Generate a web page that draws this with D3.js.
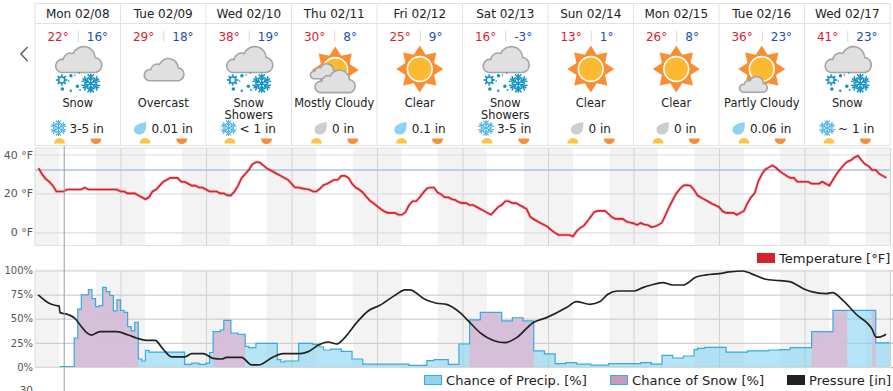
<!DOCTYPE html>
<html>
<head>
<meta charset="utf-8">
<script src="https://cdn.jsdelivr.net/npm/d3@7"></script>
<style>
html, body { margin: 0; padding: 0; background: #fff; overflow: hidden; }
text { font-family: "DejaVu Sans", sans-serif; }
</style>
</head>
<body>
<div id="chart"></div>
<script>
const dayLabels = ["Mon 02/08", "Tue 02/09", "Wed 02/10", "Thu 02/11", "Fri 02/12", "Sat 02/13", "Sun 02/14", "Mon 02/15", "Tue 02/16", "Wed 02/17"];
const hiTemps = [22, 29, 38, 30, 25, 16, 13, 26, 36, 41];
const loTemps = [16, 18, 19, 8, 9, -3, 1, 8, 23, 23];
const conditions = [["Snow"], ["Overcast"], ["Snow", "Showers"], ["Mostly Cloudy"], ["Clear"], ["Snow", "Showers"], ["Clear"], ["Clear"], ["Partly Cloudy"], ["Snow"]];
const icons = ["snow", "overcast", "snow", "mostly", "clear", "snow", "clear", "clear", "partly", "snow"];
const precipText = ["3-5 in", "0.01 in", "< 1 in", "0 in", "0.1 in", "3-5 in", "0 in", "0 in", "0.06 in", "~ 1 in"];
const precipKinds = ["flake", "drop", "flake", "none", "drop", "flake", "none", "none", "drop", "flake"];

// hours after midnight of the first day
const sunrise = [6.9, 30.9, 54.7, 79, 102.9, 126.9, 151, 174.9, 199, 222.9];
const sunset = [17.1, 41.2, 65, 89.2, 113, 137.2, 161.2, 185.1, 209.2, 233.1];

// temperature, one value per hour from hour 1 to hour 239
const tempValues = [
    33, 29.8, 27.5, 26, 24, 21, 21, 21, 22, 22, 22, 22, 22, 23, 22, 22, 22, 22, 22, 22, 22, 22, 22, 21,
    21, 20, 20, 20, 19, 18, 17, 18, 21, 22, 24, 26, 27, 28, 28, 28, 26, 26, 25, 24, 24, 23, 23, 22,
    21, 21, 21, 20, 20, 19, 19, 21, 24, 28, 30, 32, 35, 36, 36, 34.6, 33, 32, 31, 30, 29, 28, 27, 25,
    23, 23, 22.6, 22.3, 22, 21, 21, 22.5, 24.3, 25, 26, 27, 27, 29, 29, 28, 25, 23, 22, 20.5, 18.3, 16.3, 15, 13.5,
    12, 10.8, 10, 10, 10, 9, 9, 10.3, 14, 16, 16, 18, 20.4, 22.5, 23, 23, 20.5, 19.5, 18, 18, 17, 16.6, 15.4, 15,
    15, 14, 14, 13, 12, 11, 10, 9, 11, 13, 14, 16, 16, 15, 15, 14, 13, 12, 8, 6.7, 5.7, 4.6, 3.8, 2.7,
    1, -0.3, -1.4, -1.4, -1.4, -1.4, -2.2, 0.5, 2.2, 3.3, 5.5, 8, 10.5, 11, 11, 11, 9.4, 7.7, 6.9, 6.9, 6.9, 5.5, 5, 4.6,
    3.8, 4.8, 4, 3.8, 2.7, 3, 3.8, 5, 9, 13, 16.6, 20, 22.3, 24, 24.3, 24, 21.8, 18.9, 17.8, 16.8, 15.8, 14.7, 13.9, 13,
    10.8, 10, 10, 10, 9, 10, 11, 15, 18, 20, 26, 29.8, 32.4, 33.4, 34.4, 33.2, 31.5, 30.2, 29, 28, 28, 26, 26, 26,
    26, 25, 25, 25, 26, 25, 24, 27, 30, 32.4, 34.6, 36.3, 37, 38.5, 39.4, 37, 35, 34, 32, 32, 30, 29, 28
];
const tempHours = tempValues.map((d, i) => i + 1);

// pressure, read as height on the lower panel's axis
const pressureHours = [0.9, 3.7, 5.6, 6.8, 7, 9, 11.2, 13.1, 14.5, 15.9, 18.2, 22.9, 26.2, 28.5, 31.3, 33.7, 36, 38.4, 42.1, 44, 47.2, 50, 52.4, 53.8, 58, 60.8, 62.7, 66.9, 69.7, 74.4, 76.7, 80, 82.3, 84.7, 86.5, 90.7, 93.5, 96.8, 101.5, 103.8, 105.2, 109.4, 112.7, 115.5, 119.3, 122.1, 124.9, 129.1, 131.9, 135.2, 139.8, 143.6, 149.2, 152, 155.8, 158.6, 160.8, 163.6, 168.3, 170.6, 173, 176.2, 179, 181.9, 185.6, 188.4, 192.1, 194.9, 198.7, 201, 205.2, 207.6, 211.8, 216, 217.9, 222.1, 223.8, 226.8, 230.5, 235, 236.1, 237, 238.9];
const pressureValues = [74.6, 66.6, 63.9, 63.2, 56.3, 54.6, 50.4, 41.4, 35.6, 33.1, 36.6, 36.6, 33.1, 30, 27.6, 27.6, 18.3, 10.4, 10.4, 13.8, 13.8, 9, 8.3, 10, 10, 2.1, 2.1, 10.4, 13.8, 13.8, 15.9, 23.5, 25.9, 23.8, 28.7, 47.7, 58, 63.9, 75.3, 79.8, 79.8, 70.1, 66, 64.9, 56.3, 45.9, 35.6, 26.9, 25.2, 30.4, 45.9, 51.1, 61.5, 67.7, 64.9, 67.7, 75.3, 78.7, 78.7, 82.2, 84.9, 87.4, 84.9, 84.9, 93.2, 95.3, 96.7, 98.4, 99.4, 96.7, 90.8, 89.8, 88.4, 80.5, 78, 76, 77, 69, 54.6, 39, 31, 31, 33.8];

const precipHours = [7, 11, 12, 13, 15, 16, 17, 18, 19, 20, 21, 22, 23, 24, 25, 26, 27, 28, 29, 30, 31, 32, 42, 44, 46, 48, 49, 50, 52, 53, 55, 57, 59, 60, 62, 68, 69, 70, 74, 78, 80, 81, 83, 86, 89, 92, 105, 110, 112, 116, 119, 122, 125, 131, 134, 137, 140, 143, 146, 149, 152, 156, 161, 170, 173, 176, 179, 182, 185, 186, 188, 194, 200, 206, 209, 212, 218, 224, 236, 240];
const precipValues = [0.5, 30, 60, 74.6, 80, 70.8, 62.5, 63.5, 82.5, 78, 74, 58, 69.4, 58.7, 56.6, 41.8, 37.3, 46.3, 8.3, 6.2, 17.3, 15.5, 2.8, 4, 2.8, 4, 15, 36.6, 38.3, 48.3, 35.2, 33.8, 21.4, 20, 24.5, 7.6, 5.2, 6.2, 24.5, 23.5, 20.7, 17.6, 18.6, 16.2, 8.3, 3, 1.7, 6.6, 7.6, 2.8, 23.8, 48.7, 56.6, 47.7, 51, 47.7, 16.6, 13.5, 3.5, 4.5, 3, 2, 3.5, 4.5, 3, 12, 9.3, 11.4, 18, 19.3, 20.4, 15.5, 16.6, 17.6, 18, 20, 36.6, 58.7, 24.9, 24.9];

const snowHours = [11, 12, 13, 15, 16, 17, 18, 19, 20, 21, 22, 23, 24, 25, 26, 27, 28, 29, 50, 52, 53, 55, 57, 59, 122, 125, 131, 134, 137, 140, 218, 224, 228, 235, 236];
const snowValues = [30, 60, 74.6, 80, 70.8, 62.5, 63.5, 82.5, 78, 74, 58, 69.4, 58.7, 56.6, 41.8, 37.3, 46.3, 0, 36.6, 38.3, 48.3, 35.2, 33.8, 0, 48.7, 56.6, 47.7, 51, 47.7, 0, 36.6, 58.7, 0, 58.7, 0];

const dayTicks = [24, 48, 72, 96, 120, 144, 168, 192, 216, 240];
const cursorHour = 8.2;
const freezing = 32;

const width = 893;
const height = 391;
const red = "#d7202e";
const blueLine = "#36abdc";

const x = d3.scaleLinear().domain([0, 240]).range([35, 890]);
const yTemp = d3.scaleLinear().domain([0, 40]).range([232.3, 154.5]);
const yPct = d3.scaleLinear().domain([0, 100]).range([367, 270.4]);

const svg = d3.select("#chart").append("svg")
    .attr("width", width)
    .attr("height", height)
    .style("display", "block");

drawHeader();
drawPanel(yTemp, 148, 245.5, [0, 20, 40], d => d + " °F", "#dcdcdc", 11);
drawPanel(yPct, 270.4, 367, [0, 25, 50, 75, 100], d => d + "%", "#cfcfcf", 10);
drawTemp();
drawChances();
drawLegends();

function drawHeader() {
    const g = svg.append("g");
    const colW = x(24) - x(0);
    const border = "#e2e2e2";

    g.append("path")
        .attr("d", "M" + x(0) + ",3.5H" + x(240) + "M" + x(0) + ",23.5H" + x(240) + "M" + x(0) + ",145.5H" + x(240))
        .attr("stroke", border).attr("stroke-width", 1).attr("fill", "none");
    [0].concat(dayTicks).forEach(t => {
        g.append("line")
            .attr("x1", x(t)).attr("x2", x(t)).attr("y1", 3.5).attr("y2", 145.5)
            .attr("stroke", border);
    });

    g.append("path")
        .attr("d", "M27.5,47L21,54L27.5,61")
        .attr("fill", "none").attr("stroke", "#666").attr("stroke-width", 1.6);

    dayLabels.forEach((label, i) => {
        const cx = x(i * 24) + colW / 2;
        const col = g.append("g");

        col.append("text").attr("x", cx).attr("y", 18)
            .attr("text-anchor", "middle").attr("font-size", 12).attr("fill", "#222")
            .text(label);
        col.append("text").attr("x", cx - 9).attr("y", 41)
            .attr("text-anchor", "end").attr("font-size", 12).attr("fill", "#dc1c33")
            .text(hiTemps[i] + "°");
        col.append("line").attr("x1", cx + 0.5).attr("x2", cx + 0.5).attr("y1", 31).attr("y2", 42)
            .attr("stroke", "#d8d8d8");
        col.append("text").attr("x", cx + 9).attr("y", 41)
            .attr("font-size", 12).attr("fill", "#1c4fb4")
            .text(loTemps[i] + "°");

        drawIcon(col, icons[i], cx);

        conditions[i].forEach((line, j) => {
            col.append("text").attr("x", cx).attr("y", 107 + j * 12)
                .attr("text-anchor", "middle").attr("font-size", 11.4).attr("fill", "#222")
                .text(line);
        });

        drawPrecipRow(col, i, cx);

        sunMark(col, x(sunrise[i]), true);
        sunMark(col, x(sunset[i]), false);
    });
}

function sunMark(g, px, rising) {
    const arc = d3.arc().innerRadius(0).outerRadius(5.5);
    if (rising) {
        g.append("path")
            .attr("transform", "translate(" + px + ",143.5)")
            .attr("d", arc({ startAngle: -Math.PI / 2, endAngle: Math.PI / 2 }))
            .attr("fill", "#fdc541");
    } else {
        g.append("path")
            .attr("transform", "translate(" + px + ",138.5)")
            .attr("d", arc({ startAngle: Math.PI / 2, endAngle: Math.PI * 1.5 }))
            .attr("fill", "#f98d37");
    }
}

function drawPrecipRow(col, i, cx) {
    const label = col.append("text")
        .attr("y", 133).attr("font-size", 12).attr("fill", "#222")
        .text(precipText[i]);
    const w = label.node().getComputedTextLength();
    const iconW = 18;
    const left = cx - (w + iconW) / 2;
    label.attr("x", left + iconW);

    if (precipKinds[i] === "flake") {
        flake(col, left + 7, 128, 7.5, "#4ab3e2", 1.1);
    } else {
        col.append("path")
            .attr("transform", "translate(" + (left + 6.5) + ",128.5)")
            .attr("d", "M6,-6.5C6.8,-1 6,6 -0.5,6C-4.5,6 -6.5,3.5 -6,0.5C-5.5,-3.5 0,-5.5 6,-6.5Z")
            .attr("fill", precipKinds[i] === "drop" ? "#8dd3f0" : "#cdcdcd");
    }
}

function drawIcon(col, kind, cx) {
    if (kind === "snow") {
        cloud(col, cx, 60, 1);
        gear(col, cx - 16, 80);
        flake(col, cx + 13, 83.3, 9, "#1191c4", 1.5);
        [[-6.8, 15.7, 1.7], [-15.4, 29, 1.8], [-0.4, 26.3, 1.7], [-7, 30.7, 1.2], [-2.8, 15, 0.8], [2.3, 30, 0.9], [1.5, 13, 0.8], [-9, 21, 0.8]].forEach(d => {
            col.append("circle").attr("cx", cx + d[0]).attr("cy", 60 + d[1]).attr("r", d[2]).attr("fill", "#1191c4");
        });
    } else if (kind === "overcast") {
        cloud(col, cx, 70, 0.86);
    } else if (kind === "clear") {
        sun(col, cx, 69);
    } else if (kind === "mostly") {
        sun(col, cx + 1, 70);
        cloud(col, cx - 11, 71.5, 0.58);
        cloud(col, cx, 81.7, 0.87);
    } else if (kind === "partly") {
        sun(col, cx, 69);
        cloud(col, cx - 9, 84.7, 0.6);
    }
}

function cloud(g, cx, cy, k) {
    g.append("path")
        .attr("transform", "translate(" + cx + "," + cy + ") scale(" + k + ")")
        .attr("d", "M-16.5,12.5L15.5,12.5A7.5,7.5 0 0 0 17.5,-2.5A11.5,11.5 0 0 0 -4.5,-6.5A7.5,7.5 0 0 0 -14.5,-0.5A6.5,6.5 0 0 0 -16.5,12.5Z")
        .attr("fill", "#e0e0e0")
        .attr("stroke", "#a5a5a5")
        .attr("stroke-width", 1.6 / k);
}

function sun(g, cx, cy) {
    const n = 8;
    const pts = d3.range(n * 2).map(i => [i * Math.PI / n, i % 2 === 0 ? 23.5 : 15.5]);
    g.append("path")
        .attr("transform", "translate(" + cx + "," + cy + ")")
        .attr("d", d3.lineRadial().curve(d3.curveLinearClosed)(pts))
        .attr("fill", "#fb8d32");
    g.append("circle").attr("cx", cx).attr("cy", cy).attr("r", 13.2).attr("fill", "#fff");
    g.append("circle").attr("cx", cx).attr("cy", cy).attr("r", 11.6).attr("fill", "#fdb92f");
}

function flake(g, cx, cy, r, color, sw) {
    const f = g.append("g")
        .attr("transform", "translate(" + cx + "," + cy + ")")
        .attr("stroke", color)
        .attr("stroke-width", sw)
        .attr("stroke-linecap", "round")
        .attr("fill", "none");
    d3.range(6).forEach(i => {
        f.append("path")
            .attr("transform", "rotate(" + i * 60 + ")")
            .attr("d", "M0,0V" + (-r) +
                "M" + (-r * 0.3) + "," + (-r * 0.95) + "L0," + (-r * 0.62) + "L" + (r * 0.3) + "," + (-r * 0.95) +
                "M" + (-r * 0.28) + "," + (-r * 0.62) + "L0," + (-r * 0.34) + "L" + (r * 0.28) + "," + (-r * 0.62));
    });
}

function gear(g, cx, cy) {
    g.append("circle").attr("cx", cx).attr("cy", cy).attr("r", 3)
        .attr("fill", "none").attr("stroke", "#1191c4").attr("stroke-width", 1.6);
    d3.range(8).forEach(i => {
        g.append("line")
            .attr("transform", "translate(" + cx + "," + cy + ") rotate(" + i * 45 + ")")
            .attr("y1", -3.5).attr("y2", -5.6)
            .attr("stroke", "#1191c4").attr("stroke-width", 1.8);
    });
}

function drawPanel(y, top, bottom, ticks, format, gridColor, fontSize) {
    const g = svg.append("g");

    // night bands
    sunset.concat([-1]).forEach((s, i) => {
        const from = i === sunset.length ? 0 : s;
        const to = i === sunset.length ? sunrise[0] : (i + 1 < sunrise.length ? sunrise[i + 1] : 240);
        g.append("rect")
            .attr("x", x(from)).attr("width", x(to) - x(from))
            .attr("y", top).attr("height", bottom - top)
            .attr("fill", "#f3f3f3");
    });

    const xAxis = d3.axisBottom(x).tickValues(dayTicks).tickSize(bottom - top).tickFormat("");
    g.append("g").attr("transform", "translate(0," + top + ")").call(xAxis)
        .call(a => a.select(".domain").remove())
        .call(a => a.selectAll("line").attr("stroke", "#d2d2d2"));

    const yAxis = d3.axisLeft(y).tickValues(ticks).tickSize(-(x(240) - x(0))).tickPadding(2).tickFormat(format);
    g.append("g").attr("transform", "translate(" + x(0) + ",0)").call(yAxis)
        .call(a => a.select(".domain").remove())
        .call(a => a.selectAll("line").attr("stroke", gridColor).attr("stroke-width", 1.2))
        .call(a => a.selectAll("text")
            .attr("font-family", "DejaVu Sans")
            .attr("font-size", fontSize)
            .attr("fill", "#555"));

    g.append("path")
        .attr("d", "M" + x(0) + "," + top + "H" + x(240) + "M" + x(0) + "," + bottom + "H" + x(240) + "M" + x(0) + "," + top + "V" + bottom)
        .attr("fill", "none").attr("stroke", "#e2e2e2").attr("stroke-width", 1.2);
}

function drawTemp() {
    svg.append("line")
        .attr("x1", x(0)).attr("x2", x(240))
        .attr("y1", yTemp(freezing)).attr("y2", yTemp(freezing))
        .attr("stroke", "#a8c4e2").attr("stroke-width", 1.5);

    const line = d3.line()
        .x(i => x(tempHours[i]))
        .y(i => yTemp(tempValues[i]));
    const path = line(d3.range(tempHours.length));

    svg.append("path").attr("d", path)
        .attr("fill", "none").attr("stroke", red).attr("stroke-opacity", 0.25).attr("stroke-width", 3.2);
    svg.append("path").attr("d", path)
        .attr("fill", "none").attr("stroke", red).attr("stroke-width", 1.6);
}

function drawChances() {
    const area = (hours, values) => d3.area()
        .curve(d3.curveStepAfter)
        .x(i => x(hours[i]))
        .y0(yPct(0))
        .y1(i => yPct(values[i]))(d3.range(hours.length));

    svg.append("path").attr("d", area(precipHours, precipValues))
        .attr("fill", "#79d0ee").attr("fill-opacity", 0.55);
    svg.append("path").attr("d", area(snowHours, snowValues))
        .attr("fill", "#dbb9d5").attr("fill-opacity", 0.88);

    const top = d3.line()
        .curve(d3.curveStepAfter)
        .x(i => x(precipHours[i]))
        .y(i => yPct(precipValues[i]));
    svg.append("path").attr("d", top(d3.range(precipHours.length)))
        .attr("fill", "none").attr("stroke", blueLine).attr("stroke-width", 1.2);

    const pressureLine = d3.line()
        .curve(d3.curveMonotoneX)
        .x(i => x(pressureHours[i]))
        .y(i => yPct(pressureValues[i]));
    svg.append("path").attr("d", pressureLine(d3.range(pressureHours.length)))
        .attr("fill", "none").attr("stroke", "#222").attr("stroke-width", 1.7);

    // cursor
    svg.append("line")
        .attr("x1", x(cursorHour)).attr("x2", x(cursorHour))
        .attr("y1", 146).attr("y2", height)
        .attr("stroke", "#999").attr("stroke-width", 1);

    // clipped right hand pressure ticks
    const rightAxis = d3.axisRight(yPct).tickValues([0, 25, 50, 75, 100]).tickSize(2).tickFormat("");
    svg.append("g").attr("transform", "translate(891,0)").call(rightAxis)
        .call(a => a.select(".domain").remove())
        .call(a => a.selectAll("line").attr("stroke", "#c9a877"));

    // next panel's top tick, cut off by the window
    svg.append("text")
        .attr("x", 33).attr("y", 394).attr("text-anchor", "end")
        .attr("font-size", 10.5).attr("fill", "#555")
        .text("30");
}

function drawLegends() {
    const items = [
        { text: "Temperature [°F]", x: 757, y: 253, fill: red, stroke: red },
        { text: "Chance of Precip. [%]", x: 424, y: 375, fill: "#8fd4ef", stroke: blueLine },
        { text: "Chance of Snow [%]", x: 610, y: 375, fill: "#c79abf", stroke: blueLine },
        { text: "Pressure [in]", x: 787, y: 375, fill: "#222", stroke: "#222" }
    ];
    items.forEach(d => {
        svg.append("rect")
            .attr("x", d.x + 0.5).attr("y", d.y + 0.5).attr("width", 17).attr("height", 9)
            .attr("fill", d.fill).attr("stroke", d.stroke);
        svg.append("text")
            .attr("x", d.x + 22).attr("y", d.y + 10)
            .attr("font-size", 13.1).attr("fill", "#222")
            .text(d.text);
    });
}
</script>
</body>
</html>
